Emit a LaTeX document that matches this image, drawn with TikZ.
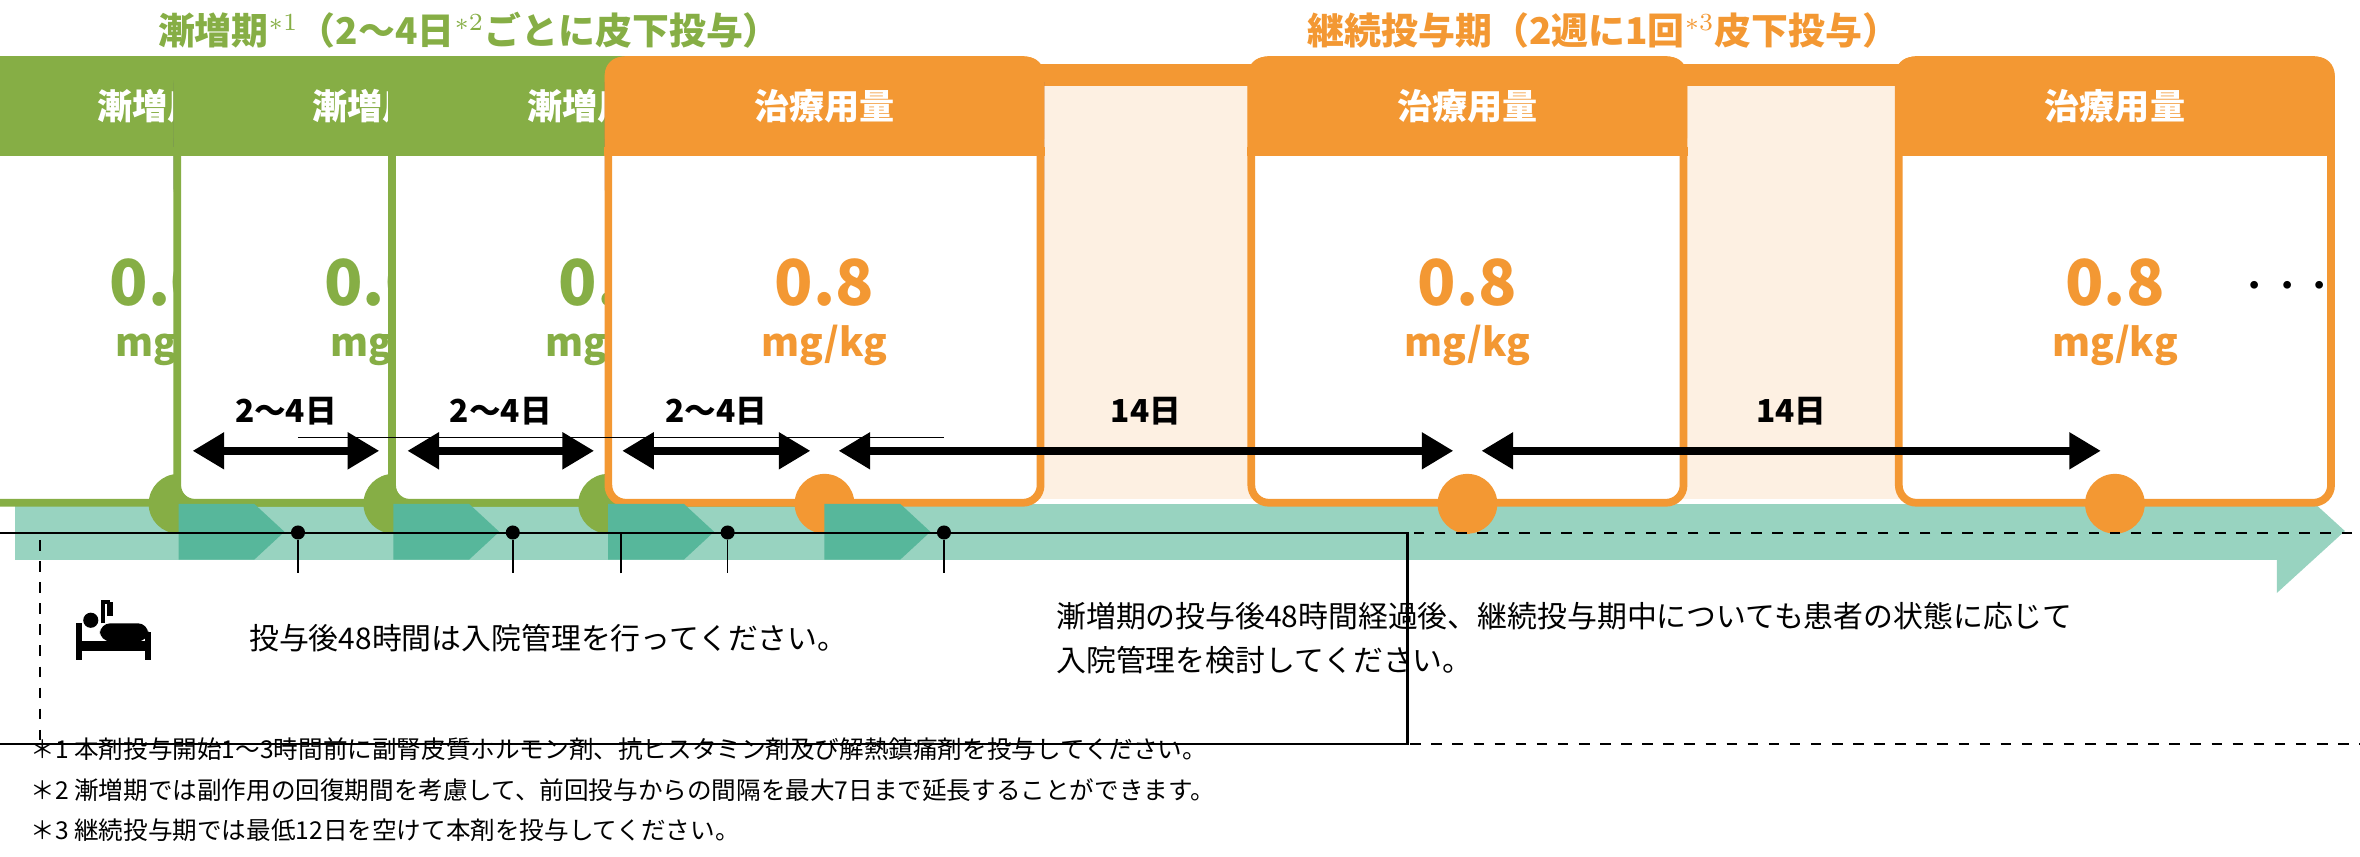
\documentclass[tikz,border=0pt]{standalone}
\usepackage{fontspec}
\setmainfont{Noto Sans CJK JP}
\usetikzlibrary{positioning,arrows.meta,calc}
\definecolor{grn}{HTML}{86AE45}
\definecolor{grnbg}{HTML}{E4EBD3}
\definecolor{org}{HTML}{F39833}
\definecolor{orgbg}{HTML}{FDF0E2}
\definecolor{purp}{HTML}{45338A}
\definecolor{teal}{HTML}{98D3C0}
\definecolor{dteal}{HTML}{57B79B}
\tikzset{
  pre/.style={fill=purp,rounded corners=5pt,minimum width=125,minimum height=40,text=white,font=\bfseries\fontsize{9.5}{10}\selectfont,inner sep=0pt},
  dose/.style={draw=#1,line width=2.2pt,fill=white,rounded corners=5pt,minimum width=123,minimum height=126,inner sep=0pt},
  dhead/.style={fill=#1,text=white,font=\bfseries\fontsize{10}{10}\selectfont,minimum width=125,minimum height=28,inner sep=0pt,rounded corners=5pt},
  pt/.style={circle,fill=#1,minimum size=17,inner sep=0pt},
  span/.style={{Triangle[length=9pt,width=10pt]}-{Triangle[length=9pt,width=10pt]},line width=2.2pt},
  lab/.style={font=\bfseries\fontsize{9}{10}\selectfont},
  note/.style={font=\fontsize{7}{9}\selectfont,anchor=west},
}
\begin{document}
\begin{tikzpicture}[x=0.1513mm,y=-0.1513mm]
\useasboundingbox (0,0) rectangle (1560,566);
% backgrounds
\fill[grnbg] (10,56) rectangle (615,330);
\fill[orgbg] (615,56) rectangle (1505,330);
\fill[grn] (10,42) rectangle (615,57);
\fill[org] (615,42) rectangle (1505,57);
\node[text=grn,font=\bfseries\fontsize{10.5}{11}\selectfont] (t1) at (310,20) {漸増期$^{*1}$（2〜4日$^{*2}$ごとに皮下投与）};
\node[text=org,font=\bfseries\fontsize{10.5}{11}\selectfont] (t2) at (1060,20) {継続投与期（2週に1回$^{*3}$皮下投与）};
% timeline band
\fill[teal] (10,333) rectangle (1505,370);
\fill[teal] (1505,310) -- (1550,351) -- (1505,392) -- cycle;
% doses
\foreach \x/\h/\v/\c [count=\i] in {118/漸増用量1/0.01/grn, 260/漸増用量2/0.06/grn, 402/漸増用量3/0.4/grn, 545/治療用量/0.8/org, 970/治療用量/0.8/org, 1398/治療用量/0.8/org}{
  \ifnum\i<5 \node[pre] (p\i) at (\x,90) {前投与薬+}; \fi
  \node[dose=\c] (d\i) at (\x,186) {};
  \node[dhead=\c,below=0pt of d\i.north] (h\i) {\h};
  \fill[\c] (h\i.south west) ++(0,-6) rectangle (h\i.south east);
  \node[text=\c,font=\bfseries\fontsize{18}{18}\selectfont] (v\i) at (\x,187) {\v};
  \node[text=\c,font=\bfseries\fontsize{11}{11}\selectfont] (u\i) at (\x,228) {mg/kg};
  \node[pt=\c] (c\i) at (\x,333) {};
  \draw[\c,line width=1.5pt,dotted] (d\i.south) -- (c\i);
  \coordinate (a\i) at (\x,298);
}
\node[font=\fontsize{20}{20}\selectfont] (more) at (1512,190) {$\cdots$};
% intervals
\foreach \i/\j/\t in {1/2/2〜4日, 2/3/2〜4日, 3/4/2〜4日, 4/5/14日, 5/6/14日}{
  \draw[span] ([xshift=4]a\i) -- ([xshift=-4]a\j);
  \node[lab] at ($(a\i)!0.5!(a\j)+(0,-26)$) {\t};
}
% chevrons and bracket
\foreach \i in {1,2,3,4}{
  \fill[dteal] (c\i.center) -- ++(50,0) -- ++(20,18.5) -- ++(-20,18.5) -- ++(-50,0) -- cycle;
  \node[circle,fill=black,minimum size=4,inner sep=0pt] (k\i) at ([xshift=34]c\i.center |- 0,352) {};
  \draw[thin] (k\i) -- ++(0,27);
}
\draw[thin] ([yshift=27]k1.center) -- ([yshift=27]k4.center);
\coordinate (m) at ($(k1)!0.5!(k4)+(0,27)$);
% notes
\node[draw,line width=0.7pt,minimum width=489,minimum height=60,inner sep=0pt,font=\fontsize{8.5}{10}\selectfont] (box1) at (362.5,422) {投与後48時間は入院管理を行ってください。};
\draw[thin] (m) -- (box1.north -| m);
\node[draw,dashed,line width=0.7pt,minimum width=890,minimum height=60,inner sep=0pt] (box2) at (1060,422) {};
\node[anchor=west,align=left,font=\fontsize{8.5}{12.5}\selectfont] (txt2) at (690,422) {漸増期の投与後48時間経過後、継続投与期中についても患者の状態に応じて\\入院管理を検討してください。};
% bed icon
\fill (50,412) rectangle (54,436);
\fill (52,424) rectangle (100,430);
\fill (96,418) rectangle (100,436);
\fill (60,410) circle (5);
\fill[rounded corners=3pt] (66,412) rectangle (98,424);
\draw[line width=1.2pt] (68,412) -- (68,398) -- (73,398);
\fill (71,398) rectangle (75,407);
% footnotes
\node[note] (n1) at (12,495) {＊1 本剤投与開始1〜3時間前に副腎皮質ホルモン剤、抗ヒスタミン剤及び解熱鎮痛剤を投与してください。};
\node[note] (n2) at (12,522) {＊2 漸増期では副作用の回復期間を考慮して、前回投与からの間隔を最大7日まで延長することができます。};
\node[note] (n3) at (12,549) {＊3 継続投与期では最低12日を空けて本剤を投与してください。};
\end{tikzpicture}
\end{document}
